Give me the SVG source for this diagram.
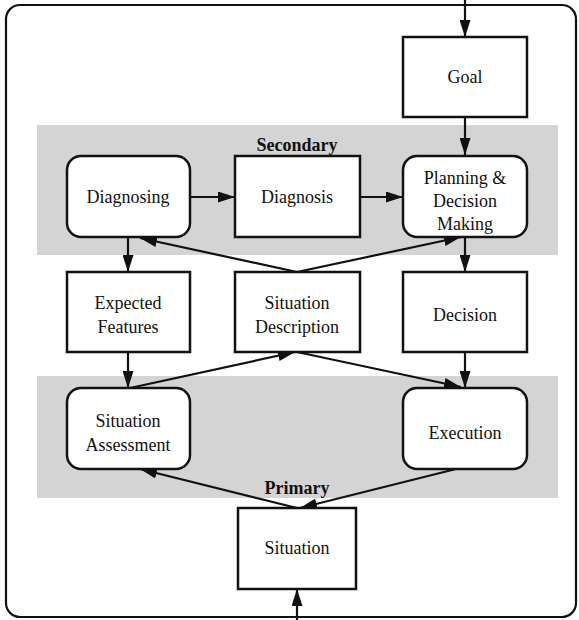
<svg xmlns="http://www.w3.org/2000/svg" width="579" height="620" viewBox="0 0 579 620">
  <defs>
    <marker id="arrow" viewBox="0 0 17 11" refX="17" refY="5.5" markerWidth="17" markerHeight="11" markerUnits="userSpaceOnUse" orient="auto">
      <path d="M0,0 L17,5.5 L0,11 Z" fill="#111"/>
    </marker>
    <style>
      .frame { fill: #fff; stroke: #111; stroke-width: 2.2; }
      .band { fill: #d4d4d4; stroke: none; }
      .box { fill: #fff; stroke: #111; stroke-width: 2.5; }
      .label { font-family: "Liberation Serif", "Times New Roman", serif; font-size: 18px; fill: #111; text-anchor: middle; }
      .title { font-family: "Liberation Serif", "Times New Roman", serif; font-size: 18px; font-weight: bold; fill: #111; text-anchor: middle; }
      .conn line { stroke: #111; stroke-width: 2.2; marker-end: url(#arrow); }
    </style>
  </defs>

  <!-- outer frame -->
  <rect class="frame" x="6" y="5" width="570" height="612" rx="14"/>

  <!-- level bands -->
  <g id="band-secondary">
    <rect class="band" x="37" y="125" width="521" height="130"/>
    <text class="title" x="297" y="151">Secondary</text>
  </g>
  <g id="band-primary">
    <rect class="band" x="37" y="376" width="521" height="122"/>
    <text class="title" x="297" y="494">Primary</text>
  </g>

  <!-- connectors -->
  <g id="connectors" class="conn">
    <line x1="465" y1="0" x2="465" y2="37"/>
    <line x1="465" y1="117" x2="465" y2="155"/>
    <line x1="190" y1="197" x2="235" y2="197"/>
    <line x1="360" y1="197" x2="403" y2="197"/>
    <line x1="128" y1="237" x2="128" y2="272"/>
    <line x1="465" y1="237" x2="465" y2="272"/>
    <line x1="297" y1="272" x2="140" y2="238"/>
    <line x1="297" y1="272" x2="461" y2="237"/>
    <line x1="128" y1="352" x2="128" y2="388"/>
    <line x1="465" y1="352" x2="465" y2="388"/>
    <line x1="130" y1="388" x2="295" y2="352"/>
    <line x1="297" y1="352" x2="461" y2="387"/>
    <line x1="297" y1="508" x2="140" y2="469"/>
    <line x1="460" y1="468" x2="300" y2="508"/>
    <line x1="297" y1="620" x2="297" y2="589"/>
  </g>

  <!-- nodes -->
  <g id="goal">
    <rect class="box" x="403" y="37" width="124" height="80"/>
    <text class="label" x="465" y="83">Goal</text>
  </g>
  <g id="diagnosing">
    <rect class="box" x="67" y="156" width="123" height="81" rx="14"/>
    <text class="label" x="128" y="203">Diagnosing</text>
  </g>
  <g id="diagnosis">
    <rect class="box" x="235" y="156" width="125" height="81"/>
    <text class="label" x="297" y="203">Diagnosis</text>
  </g>
  <g id="planning">
    <rect class="box" x="403" y="156" width="124" height="81" rx="14"/>
    <text class="label" x="465" y="184">Planning &amp;</text>
    <text class="label" x="465" y="207">Decision</text>
    <text class="label" x="465" y="230">Making</text>
  </g>
  <g id="expected-features">
    <rect class="box" x="67" y="272" width="123" height="80"/>
    <text class="label" x="128" y="309">Expected</text>
    <text class="label" x="128" y="333">Features</text>
  </g>
  <g id="situation-description">
    <rect class="box" x="235" y="272" width="125" height="80"/>
    <text class="label" x="297" y="309">Situation</text>
    <text class="label" x="297" y="333">Description</text>
  </g>
  <g id="decision">
    <rect class="box" x="403" y="272" width="124" height="80"/>
    <text class="label" x="465" y="321">Decision</text>
  </g>
  <g id="situation-assessment">
    <rect class="box" x="67" y="388" width="123" height="81" rx="14"/>
    <text class="label" x="128" y="427">Situation</text>
    <text class="label" x="128" y="451">Assessment</text>
  </g>
  <g id="execution">
    <rect class="box" x="403" y="388" width="124" height="81" rx="14"/>
    <text class="label" x="465" y="439">Execution</text>
  </g>
  <g id="situation">
    <rect class="box" x="238" y="508" width="118" height="81"/>
    <text class="label" x="297" y="554">Situation</text>
  </g>
</svg>
